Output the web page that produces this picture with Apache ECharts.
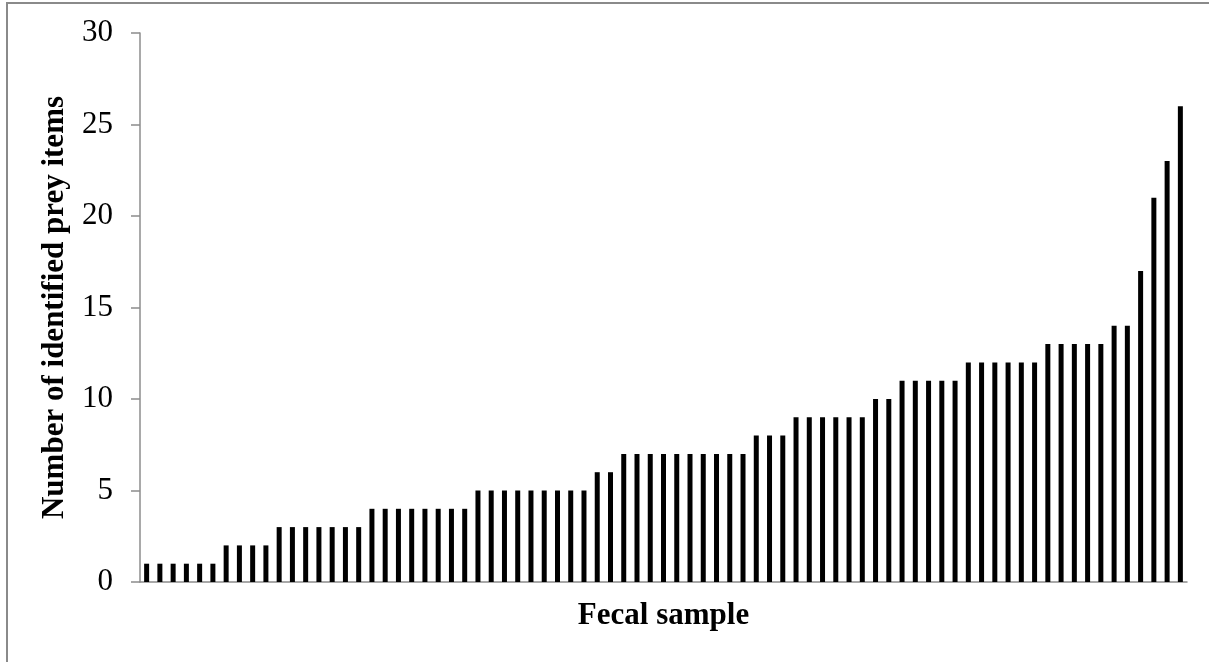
<!DOCTYPE html>
<html>
<head>
<meta charset="utf-8">
<script src="https://cdn.jsdelivr.net/npm/echarts@6/dist/echarts.min.js"></script>
<style>
  html, body { margin: 0; padding: 0; background: #fff; }
  #chart { width: 1209px; height: 662px; }
</style>
</head>
<body>
<div id="chart"></div>
<script>
// prey items per fecal sample, sorted ascending (79 samples)
const preyCounts = [
  1, 1, 1, 1, 1, 1,
  2, 2, 2, 2,
  3, 3, 3, 3, 3, 3, 3,
  4, 4, 4, 4, 4, 4, 4, 4,
  5, 5, 5, 5, 5, 5, 5, 5, 5,
  6, 6,
  7, 7, 7, 7, 7, 7, 7, 7, 7, 7,
  8, 8, 8,
  9, 9, 9, 9, 9, 9,
  10, 10,
  11, 11, 11, 11, 11,
  12, 12, 12, 12, 12, 12,
  13, 13, 13, 13, 13,
  14, 14,
  17, 21, 23, 26
]
const samples = preyCounts.map((v, i) => 'S' + (i + 1))
const yTicks = [0, 5, 10, 15, 20, 25, 30]

const chart = echarts.init(document.getElementById('chart'))

const serif = '"Liberation Serif", "Times New Roman", serif'
const axisGray = '#8c8c8c'

const option = {
  animation: false,
  graphic: [
    {
      type: 'polyline',
      shape: { points: [[7, 670], [7, 3], [1215, 3]] },
      style: { stroke: '#8a8a8a', lineWidth: 2, fill: null }
    }
  ],
  grid: {
    left: 140,
    right: 22,
    top: 33,
    bottom: 80
  },
  xAxis: {
    type: 'category',
    data: samples,
    name: 'Fecal sample',
    nameLocation: 'middle',
    nameGap: 18,
    nameTextStyle: {
      fontFamily: serif,
      fontWeight: 'bold',
      fontSize: 31,
      color: '#000',
      verticalAlign: 'top'
    },
    axisLine: { lineStyle: { color: axisGray, width: 1.5 } },
    axisTick: { show: false },
    axisLabel: { show: false },
    splitLine: { show: false }
  },
  yAxis: {
    type: 'value',
    min: yTicks[0],
    max: yTicks[yTicks.length - 1],
    interval: 5,
    name: 'Number of identified prey items',
    nameLocation: 'middle',
    nameGap: 70,
    nameTextStyle: {
      fontFamily: serif,
      fontWeight: 'bold',
      fontSize: 31,
      color: '#000'
    },
    axisLine: { show: true, lineStyle: { color: axisGray, width: 1.5 } },
    axisTick: { show: true, length: 9, lineStyle: { color: axisGray, width: 1.5 } },
    axisLabel: {
      fontFamily: serif,
      fontSize: 31,
      color: '#000',
      margin: 27
    },
    splitLine: { show: false }
  },
  series: [
    {
      type: 'bar',
      data: preyCounts,
      barWidth: 5,
      itemStyle: { color: '#000' }
    }
  ]
}

chart.setOption(option)
</script>
</body>
</html>
